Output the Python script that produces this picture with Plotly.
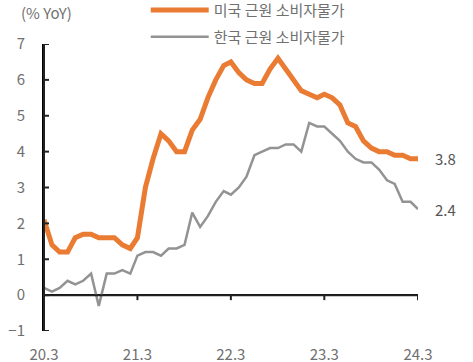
import pandas as pd
import plotly.graph_objects as go

months = pd.date_range("2020-03-01", "2024-03-01", freq="MS")

us_core = [2.1, 1.4, 1.2, 1.2, 1.6, 1.7, 1.7, 1.6, 1.6, 1.6, 1.4, 1.3,
           1.6, 3.0, 3.8, 4.5, 4.3, 4.0, 4.0, 4.6, 4.9, 5.5, 6.0, 6.4,
           6.5, 6.2, 6.0, 5.9, 5.9, 6.3, 6.6, 6.3, 6.0, 5.7, 5.6, 5.5,
           5.6, 5.5, 5.3, 4.8, 4.7, 4.3, 4.1, 4.0, 4.0, 3.9, 3.9, 3.8,
           3.8]
kr_core = [0.2, 0.1, 0.2, 0.4, 0.3, 0.4, 0.6, -0.3, 0.6, 0.6, 0.7, 0.6,
           1.1, 1.2, 1.2, 1.1, 1.3, 1.3, 1.4, 2.3, 1.9, 2.2, 2.6, 2.9,
           2.8, 3.0, 3.3, 3.9, 4.0, 4.1, 4.1, 4.2, 4.2, 4.0, 4.8, 4.7,
           4.7, 4.5, 4.3, 4.0, 3.8, 3.7, 3.7, 3.5, 3.2, 3.1, 2.6, 2.6,
           2.4]

tick_dates = ["2020-03-01", "2021-03-01", "2022-03-01", "2023-03-01", "2024-03-01"]
tick_labels = ["20.3", "21.3", "22.3", "23.3", "24.3"]
y_ticks = [-1, 0, 1, 2, 3, 4, 5, 6, 7]

names = ["미국 근원 소비자물가", "한국 근원 소비자물가"]
ORANGE = "#E97B32"
GRAY = "#939393"
TXT = "#707070"
AXIS = "#222222"
CLEAR = "rgba(0,0,0,0)"
FONT = "Noto Sans CJK KR"
txt_font = dict(family=FONT, size=15, color=TXT)
val_font = dict(family=FONT, size=15, color="#555555")

fig = go.Figure()
fig.add_trace(go.Scatter(x=months, y=us_core, mode="lines", name=names[0],
                         legend="legend",
                         line=dict(color=ORANGE, width=5)))
fig.add_trace(go.Scatter(x=months, y=kr_core, mode="lines", name=names[1],
                         legend="legend2",
                         line=dict(color=GRAY, width=2.5)))

y_min, y_max = -1, 7
leg_common = dict(xanchor="left", yanchor="middle", bgcolor=CLEAR,
                  itemwidth=58, font=txt_font)
fig.update_layout(
    width=473, height=362,
    margin=dict(l=44, r=55, t=44, b=31, autoexpand=False),
    plot_bgcolor="white",
    showlegend=True,
    legend=dict(x=0.272, y=1.118, **leg_common),
    legend2=dict(x=0.272, y=1.024, **leg_common),
    xaxis=dict(type="date", range=[months[0], months[-1]],
               tickvals=tick_dates, ticktext=tick_labels,
               showline=False, ticks="outside", ticklen=10, tickcolor=CLEAR,
               showgrid=False, zeroline=False, tickfont=txt_font),
    yaxis=dict(range=[y_min, y_max], tickvals=y_ticks,
               showline=True, linecolor="black", linewidth=2,
               ticks="outside", ticklen=14, tickcolor=CLEAR,
               showgrid=False, zeroline=True, zerolinecolor="black",
               zerolinewidth=2, tickfont=txt_font),
)

# axis lines and tick marks (axis decoration)
axis_line = dict(color=AXIS, width=2)
fig.add_shape(type="line", xref="paper", yref="y", x0=0, x1=0,
              y0=y_min, y1=y_max, line=axis_line, layer="above")
fig.add_shape(type="line", xref="paper", yref="y", x0=0, x1=1,
              y0=0, y1=0, line=axis_line, layer="above")
for v in y_ticks:
    fig.add_shape(type="line", xref="paper", yref="y", xsizemode="pixel",
                  xanchor=0, x0=0, x1=5, y0=v, y1=v, line=axis_line,
                  layer="above")
for d in tick_dates[1:]:
    fig.add_shape(type="line", xref="x", yref="y", ysizemode="pixel",
                  yanchor=0, y0=0, y1=-5, x0=d, x1=d, line=axis_line,
                  layer="above")

fig.add_annotation(x=0, y=1.0, xref="paper", yref="paper", yshift=32,
                   xshift=-25, text="(% YoY)", showarrow=False,
                   xanchor="left", yanchor="middle", font=txt_font)
fig.add_annotation(x=months[-1], y=us_core[-1], text=f"{us_core[-1]:.1f}",
                   showarrow=False, xanchor="left", xshift=15, font=val_font)
fig.add_annotation(x=months[-1], y=kr_core[-1], text=f"{kr_core[-1]:.1f}",
                   showarrow=False, xanchor="left", xshift=15, font=val_font)

fig.write_html("out.html", config={"displayModeBar": False},
               post_script="document.body.style.margin='0px';")
